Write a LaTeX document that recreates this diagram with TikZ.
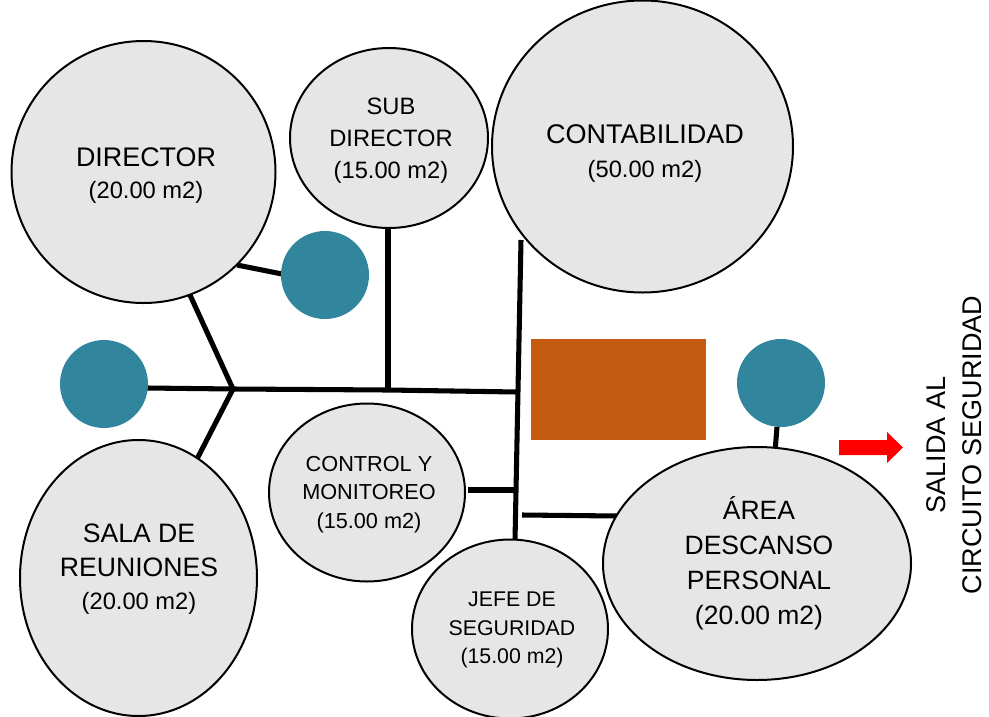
\documentclass[tikz,border=0pt]{standalone}
\usepackage{fontspec}
\setmainfont{Liberation Sans}
\usetikzlibrary{shapes.geometric,shapes.arrows}
\definecolor{fillg}{RGB}{230,230,230}
\definecolor{teal1}{RGB}{49,133,156}
\definecolor{brn}{RGB}{197,90,17}
\begin{document}
\begin{tikzpicture}[x=0.0264cm,y=-0.0264cm,
 room/.style={ellipse,draw=black,line width=1.5pt,fill=fillg,inner sep=0pt,align=center},
 hub/.style={circle,fill=teal1,inner sep=0pt,minimum size=88*0.0264cm},
 conn/.style={line width=3.8pt,line cap=butt}]
\useasboundingbox (0,0) rectangle (989,716);
\coordinate (j1) at (233,389);
\coordinate (j2) at (388,390);
\coordinate (j3) at (517,392);
\coordinate (j4) at (515,490);
\coordinate (top3) at (521,240);
\coordinate (bot3) at (515,541);
\coordinate (e1) at (190,295);
\coordinate (e2) at (197,459);
\coordinate (e3) at (237,265);
\coordinate (e4) at (282,274);
\coordinate (e5) at (388,229);
\coordinate (e6) at (468,490);
\coordinate (e7) at (522,515);
\coordinate (e8) at (617,516);
\coordinate (e9) at (777,427);
\coordinate (e10) at (775,452);
\coordinate (e11) at (147,388);
\draw[conn] (e1)--(j1)--(e2);
\draw[conn] (e3)--(e4);
\draw[conn] (e11)--(j1)--(j2)--(j3);
\draw[conn] (e5)--(j2);
\draw[conn] (top3)--(bot3);
\draw[conn] (e6)--(j4);
\draw[conn] (e7)--(e8);
\draw[conn] (e9)--(e10);
\node[room,minimum width=264*0.0264cm,minimum height=262*0.0264cm] (dir) at (143.5,172) {};
\node[room,minimum width=198*0.0264cm,minimum height=180*0.0264cm] (sub) at (389,138) {};
\node[room,minimum width=301*0.0264cm,minimum height=292*0.0264cm] (con) at (642.5,146.5) {};
\node[room,minimum width=237*0.0264cm,minimum height=276*0.0264cm] (sala) at (138.5,578) {};
\node[room,minimum width=196*0.0264cm,minimum height=178*0.0264cm] (ctrl) at (367,492.5) {};
\node[room,minimum width=196*0.0264cm,minimum height=179*0.0264cm] (jefe) at (510,629) {};
\node[room,minimum width=308*0.0264cm,minimum height=233*0.0264cm] (area) at (757,563.5) {};
\node[hub] (h1) at (325,275) {};
\node[hub] (h2) at (104,384) {};
\node[hub] (h3) at (781,383) {};
\node[fill=brn,inner sep=0pt,minimum width=175*0.0264cm,minimum height=101*0.0264cm] (box) at (618.5,389.5) {};
\fill[red] (839,440) -- (887,440) -- (887,432) -- (903,447.5) -- (887,463) -- (887,455) -- (839,455) -- cycle;
\node[font=\fontsize{20.2}{24}\selectfont] (t1) at (146,157) {DIRECTOR};
\node[font=\fontsize{17.8}{24}\selectfont] (t1b) at (146,192) {(20.00 m2)};
\node[align=center,font=\fontsize{17.8}{24}\selectfont] (t2) at (391,140.5) {SUB\\DIRECTOR\\(15.00 m2)};
\node[font=\fontsize{20.3}{24}\selectfont] (t3) at (645,134) {CONTABILIDAD};
\node[font=\fontsize{17.8}{24}\selectfont] (t3b) at (645,171) {(50.00 m2)};
\node[align=center,font=\fontsize{20}{25.5}\selectfont] (t4) at (139,550) {SALA DE\\REUNIONES};
\node[font=\fontsize{17.8}{24}\selectfont] (t4b) at (139,603) {(20.00 m2)};
\node[align=center,font=\fontsize{16.3}{21.5}\selectfont] (t5) at (369,494.5) {CONTROL Y\\MONITOREO\\(15.00 m2)};
\node[align=center,font=\fontsize{16}{21.5}\selectfont] (t6) at (512,630) {JEFE DE\\SEGURIDAD\\(15.00 m2)};
\node[align=center,font=\fontsize{19.9}{26.2}\selectfont] (t7) at (759,563) {ÁREA\\DESCANSO\\PERSONAL\\(20.00 m2)};
\node[align=center,rotate=90,font=\fontsize{20.3}{27}\selectfont] (t8) at (954,445) {SALIDA AL\\CIRCUITO SEGURIDAD};
\end{tikzpicture}
\end{document}
